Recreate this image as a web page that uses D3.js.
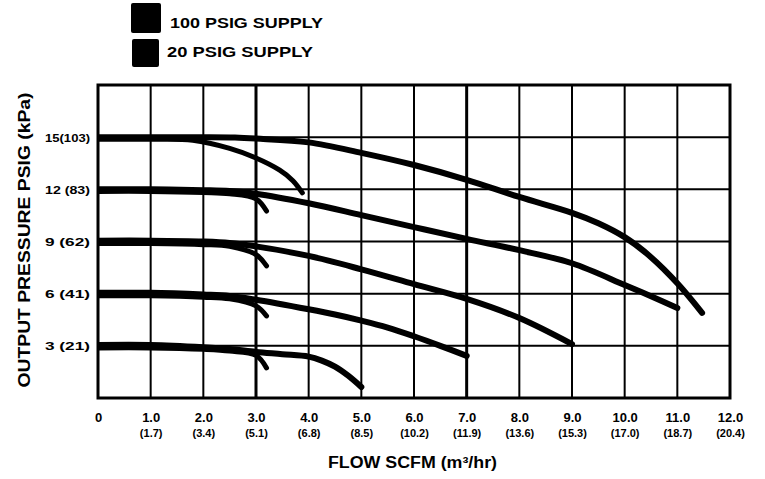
<!DOCTYPE html>
<html>
<head>
<meta charset="utf-8">
<script src="https://cdn.jsdelivr.net/npm/d3@7"></script>
<style>
  html, body { margin: 0; padding: 0; background: #fff; }
  svg { display: block; }
  text { font-family: "Liberation Sans", Arial, Helvetica, sans-serif; fill: #000; }
</style>
</head>
<body>
<svg id="chart" width="765" height="479"></svg>
<script>
// ---------- data ----------
const legendLabels = ["100 PSIG SUPPLY", "20 PSIG SUPPLY"];

const xTickValues = [0, 1, 2, 3, 4, 5, 6, 7, 8, 9, 10, 11, 12];
const xTickScfm = ["0", "1.0", "2.0", "3.0", "4.0", "5.0", "6.0", "7.0", "8.0", "9.0", "10.0", "11.0", "12.0"];
const xTickMetric = ["", "(1.7)", "(3.4)", "(5.1)", "(6.8)", "(8.5)", "(10.2)", "(11.9)", "(13.6)", "(15.3)", "(17.0)", "(18.7)", "(20.4)"];

const yTickValues = [3, 6, 9, 12, 15];
const yTickLabels = ["3 (21)", "6 (41)", "9 (62)", "12 (83)", "15(103)"];

const xTitle = "FLOW SCFM (m\u00B3/hr)";
const yTitle = "OUTPUT PRESSURE PSIG (kPa)";

// [flow SCFM, output pressure PSIG]
// 100 PSIG supply curves
const set15Supply100 = [[0,15],[1,15],[2,15],[2.6,14.98],[3,14.92],[4,14.7],[5,14.1],[6,13.4],[7,12.55],[8,11.56],[9,10.65],[9.5,10.05],[10,9.25],[10.5,8.1],[11,6.6],[11.47,4.9]];
const set12Supply100 = [[0,12],[1,12],[2,11.95],[2.5,11.9],[3,11.75],[4,11.2],[5,10.52],[6,9.83],[7,9.15],[8,8.5],[9,7.75],[10,6.5],[10.5,5.85],[11,5.18]];
const set9Supply100  = [[0,9.05],[1,9.05],[2,9],[2.5,8.92],[3,8.72],[4,8.17],[5,7.4],[6,6.55],[7,5.7],[8,4.6],[9,3.1]];
const set6Supply100  = [[0,6.05],[1,6.05],[2,5.95],[2.5,5.87],[3,5.65],[4,5.1],[4.5,4.8],[5,4.45],[5.5,4.05],[6,3.55],[6.5,3.0],[7,2.42]];
const set3Supply100  = [[0,3.05],[1,3.05],[2,2.92],[2.5,2.82],[3,2.65],[3.5,2.52],[4,2.38],[4.25,2.15],[4.5,1.8],[4.75,1.28],[5,0.63]];
// 20 PSIG supply curves
const set15Supply20 = [[0,14.88],[1,14.88],[1.8,14.82],[2.5,14.35],[3,13.8],[3.45,13.1],[3.7,12.5],[3.88,11.8]];
const set12Supply20 = [[0,11.88],[1,11.88],[2,11.82],[2.5,11.75],[3,11.45],[3.2,10.75]];
const set9Supply20  = [[0,8.88],[1,8.88],[2,8.82],[2.5,8.72],[3,8.25],[3.2,7.6]];
const set6Supply20  = [[0,5.88],[1,5.88],[2,5.8],[2.5,5.7],[3,5.3],[3.2,4.72]];
const set3Supply20  = [[0,2.88],[1,2.88],[2,2.8],[2.5,2.7],[3,2.45],[3.2,1.73]];

// ---------- drawing ----------
const svg = d3.select("#chart");
const x = d3.scaleLinear().domain([0, 12]).range([98, 730]);
const y = d3.scaleLinear().domain([0, 18]).range([398, 85]);

// legend
const leg = svg.append("g");
const legBoxes = [[131, 3, 30, 30], [132, 39, 27, 28]];
legendLabels.forEach((lab, i) => {
  const b = legBoxes[i];
  leg.append("rect").attr("x", b[0]).attr("y", b[1]).attr("width", b[2]).attr("height", b[3])
    .attr("rx", 2).attr("fill", "#000");
  leg.append("text").attr("x", i === 0 ? 170 : 167).attr("y", i === 0 ? 28 : 57)
    .attr("font-size", 14).attr("font-weight", "bold")
    .attr("textLength", i === 0 ? 153 : 146).attr("lengthAdjust", "spacingAndGlyphs")
    .text(lab);
});

// grid
const grid = svg.append("g");
grid.selectAll("line.v").data(d3.range(1, 12)).join("line")
  .attr("x1", d => x(d)).attr("x2", d => x(d))
  .attr("y1", y(18)).attr("y2", y(0))
  .attr("stroke", "#000").attr("stroke-width", d => (d === 3 || d === 7) ? 3 : 2);
grid.selectAll("line.h").data(d3.range(3, 18, 3)).join("line")
  .attr("x1", x(0)).attr("x2", x(12))
  .attr("y1", d => y(d)).attr("y2", d => y(d))
  .attr("stroke", "#000").attr("stroke-width", 2);
grid.append("rect").attr("x", x(0)).attr("y", y(18))
  .attr("width", x(12) - x(0)).attr("height", y(0) - y(18))
  .attr("fill", "none").attr("stroke", "#000").attr("stroke-width", 3);

// clip for curves
svg.append("defs").append("clipPath").attr("id", "plotclip")
  .append("rect").attr("x", x(0)).attr("y", y(18) - 5)
  .attr("width", x(12) - x(0)).attr("height", y(0) - y(18) + 10);

const line = d3.line().x(d => x(d[0])).y(d => y(d[1])).curve(d3.curveCatmullRom.alpha(0.5));
const curvesG = svg.append("g").attr("clip-path", "url(#plotclip)");
const lowCurves = [set15Supply20, set12Supply20, set9Supply20, set6Supply20, set3Supply20];
const highCurves = [set15Supply100, set12Supply100, set9Supply100, set6Supply100, set3Supply100];
lowCurves.forEach(c => {
  curvesG.append("path").attr("d", line(c)).attr("fill", "none")
    .attr("stroke", "#000").attr("stroke-width", 5).attr("stroke-linecap", "round");
});
highCurves.forEach(c => {
  curvesG.append("path").attr("d", line(c)).attr("fill", "none")
    .attr("stroke", "#000").attr("stroke-width", 6).attr("stroke-linecap", "round");
});

// x axis labels
const xAxis = d3.axisBottom(x).tickValues(xTickValues).tickSize(0)
  .tickFormat((d, i) => xTickScfm[i]);
const xg = svg.append("g").attr("transform", `translate(0,${y(0)})`).call(xAxis);
xg.select(".domain").remove();
xg.selectAll(".tick text")
  .attr("y", 24).attr("dy", 0)
  .attr("font-size", 13).attr("font-weight", "bold")
  .attr("font-family", "Liberation Sans, Arial, sans-serif").attr("fill", "#000");
xg.selectAll(".tick").each(function(d, i) {
  d3.select(this).append("text").attr("y", 39).attr("text-anchor", "middle")
    .attr("font-size", 11).attr("font-weight", "bold")
    .text(xTickMetric[i]);
});

// y axis labels
const yAxis = d3.axisLeft(y).tickValues(yTickValues).tickSize(0)
  .tickFormat((d, i) => yTickLabels[i]);
const yg = svg.append("g").attr("transform", `translate(${x(0)},0)`).call(yAxis);
yg.select(".domain").remove();
yg.selectAll(".tick text")
  .attr("x", -8).attr("dy", "0.36em")
  .attr("font-size", 11).attr("font-weight", "bold")
  .attr("font-family", "Liberation Sans, Arial, sans-serif").attr("fill", "#000")
  .attr("textLength", 45).attr("lengthAdjust", "spacingAndGlyphs");

// titles
svg.append("text").attr("x", 328).attr("y", 468)
  .attr("font-size", 16).attr("font-weight", "bold")
  .attr("textLength", 169).attr("lengthAdjust", "spacingAndGlyphs")
  .text(xTitle);
svg.append("text").attr("transform", "translate(30,240) rotate(-90)")
  .attr("text-anchor", "middle")
  .attr("font-size", 17).attr("font-weight", "bold")
  .attr("textLength", 295).attr("lengthAdjust", "spacingAndGlyphs")
  .text(yTitle);
</script>
</body>
</html>
